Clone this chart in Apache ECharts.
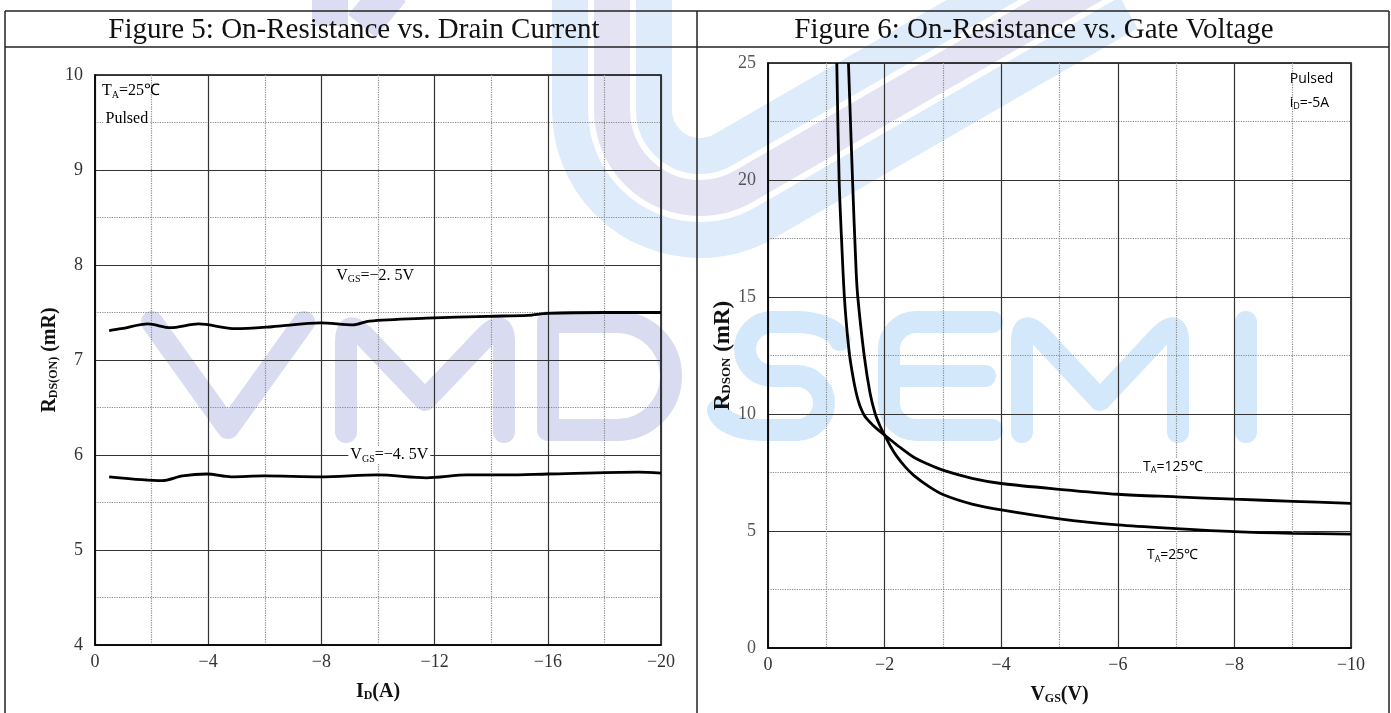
<!DOCTYPE html>
<html>
<head>
<meta charset="UTF-8">
<title>On-Resistance</title>
<script src="https://cdn.jsdelivr.net/npm/echarts@6/dist/echarts.min.js"></script>
<style>
  html, body { margin: 0; padding: 0; background: #fff; }
  #main { width: 1391px; height: 713px; }
</style>
</head>
<body>
<div id="main"></div>
<script>
// Figure 5 data: RDS(on) vs ID
const id25 = [-0.5, -0.93, -1.87, -2.66, -3.66, -4.96, -6.25, -7.97, -9.12, -9.7, -11.71, -13.87, -15.3, -16.0, -18.0, -20.0];
const rds25 = [7.31, 7.33, 7.38, 7.34, 7.38, 7.33, 7.35, 7.39, 7.37, 7.41, 7.44, 7.46, 7.47, 7.49, 7.50, 7.50];
const id45 = [-0.5, -1.65, -2.37, -3.09, -3.95, -4.81, -5.96, -7.97, -9.99, -11.71, -13.15, -14.58, -16.0, -19.2, -20.0];
const rds45 = [5.77, 5.74, 5.73, 5.78, 5.80, 5.77, 5.78, 5.77, 5.79, 5.76, 5.79, 5.79, 5.80, 5.82, 5.81];

// Figure 6 data: RDSON vs VGS
const vgs125 = [-1.18, -1.22, -1.27, -1.31, -1.35, -1.40, -1.45, -1.50, -1.55, -1.60, -1.65, -1.70, -1.80, -1.90, -2.00, -2.25, -2.50, -2.75, -3.00, -3.50, -4.00, -5.00, -6.00, -7.00, -8.00, -9.00, -10.00];
const r125 = [25, 20, 17, 15, 13.7, 12.5, 11.7, 11.05, 10.55, 10.2, 9.95, 9.78, 9.52, 9.3, 9.1, 8.6, 8.15, 7.85, 7.6, 7.25, 7.03, 6.78, 6.57, 6.46, 6.36, 6.27, 6.18];
const vgs25 = [-1.38, -1.45, -1.51, -1.54, -1.65, -1.75, -1.84, -1.92, -2.00, -2.10, -2.20, -2.35, -2.50, -2.75, -3.00, -3.50, -4.00, -5.00, -6.00, -7.00, -8.00, -9.00, -10.00];
const r25 = [25, 20, 16.2, 15, 12.5, 10.9, 10, 9.5, 9.1, 8.62, 8.22, 7.75, 7.38, 6.92, 6.56, 6.15, 5.9, 5.52, 5.26, 5.1, 4.97, 4.9, 4.87];

const titles = ['Figure 5: On-Resistance vs. Drain Current', 'Figure 6: On-Resistance vs. Gate Voltage'];

function zip(xs, ys) { return xs.map((x, i) => [x, ys[i]]); }
function negFmt(v) { return v === 0 ? '0' : '\u2212' + Math.abs(v); }

const serif = 'Liberation Serif';
const sans = 'Open Sans';

// watermark (logo) paths, drawn behind everything
const wmLav = ['M152,322 L228,428 L304,322',
  'M346,432 L346,342 Q346,318 364,336 L425,400 L486,336 Q504,318 504,342 L504,432',
  'M548,322 L548,430 L617,430 A54,54 0 0 0 617,322 Z'];
const wmBlue = ['M840,340 A45,22 0 0 0 795,322 L772,322 A27,27 0 0 0 772,376 L797,376 A27,27 0 0 1 797,430 L760,430 A45,22 0 0 1 718,410',
  'M992,322 L916,322 A27,27 0 0 0 889,349 L889,403 A27,27 0 0 0 916,430 L992,430 M889,376 L985,376',
  'M1022,432 L1022,342 Q1022,318 1040,336 L1100,400 L1160,336 Q1178,318 1178,342 L1178,432',
  'M1246,322 L1246,432'];
const bands = [];
[130, 88, 46].forEach((r, k) => {
  const cx = 700, cy = 110;
  const ex = cx + r * 0.5, ey = cy + r * 0.866;
  bands.push({ d: 'M' + (cx - r) + ',-20 L' + (cx - r) + ',' + cy + ' A' + r + ',' + r + ' 0 0 0 ' + ex + ',' + ey + ' L' + (ex + 420 * 0.866) + ',' + (ey - 420 * 0.5), c: k === 1 ? '#e3e3f4' : '#deebfa' });
});
bands.push({ d: 'M330,-10 L330,26', c: '#dcdcf2' });
bands.push({ d: 'M362,26 L392,-10', c: '#dcdcf2' });

const chart = echarts.init(document.getElementById('main'));

function axisX(grid, min, interval) {
  return {
    type: 'value', gridIndex: grid, min: min, max: 0, inverse: true, interval: interval,
    axisLine: { lineStyle: { color: '#000', width: 1.5 } },
    axisTick: { show: false },
    axisLabel: { fontFamily: serif, fontSize: 18, color: '#333', margin: 8, formatter: negFmt },
    splitLine: { lineStyle: { color: '#333', width: 1.2 } },
    minorTick: { show: false, splitNumber: 2 },
    minorSplitLine: { show: true, lineStyle: { color: '#8a8a8a', type: 'dotted', width: 1.2 } }
  };
}
function axisY(grid, min, max, interval, col) {
  return {
    type: 'value', gridIndex: grid, min: min, max: max, interval: interval,
    axisLine: { lineStyle: { color: '#000', width: 1.5 } },
    axisTick: { show: false },
    axisLabel: { fontFamily: serif, fontSize: 18, color: col, margin: 12 },
    splitLine: { lineStyle: { color: '#333', width: 1.2 } },
    minorTick: { show: false, splitNumber: 2 },
    minorSplitLine: { show: true, lineStyle: { color: '#8a8a8a', type: 'dotted', width: 1.2 } }
  };
}

function nameRich(big, small) {
  return {
    b: { fontFamily: serif, fontWeight: 'bold', fontSize: big, color: '#111' },
    s: { fontFamily: serif, fontWeight: 'bold', fontSize: small, color: '#111', padding: [9, 0, 0, 0] }
  };
}

const xA = [axisX(0, -20, 4), axisX(1, -10, 2)];
xA[0].name = '{b|I}{s|D}{b|(A)}';
xA[1].name = '{b|V}{s|GS}{b|(V)}';
xA.forEach(a => { a.nameLocation = 'middle'; a.nameGap = 36; a.nameTextStyle = { rich: nameRich(20, 12) }; });
const yA = [axisY(0, 4, 10, 1, '#333'), axisY(1, 0, 25, 5, '#555')];
yA[0].name = '{b|R}{s|DS(ON)}{b| (mR)}';
yA[1].name = '{b|R}{s|DSON}{b| (mR)}';
yA[0].nameGap = 35; yA[1].nameGap = 27;
yA[0].nameLocation = 'middle'; yA[0].nameTextStyle = { rich: nameRich(20, 12) };
yA[1].nameLocation = 'middle'; yA[1].nameTextStyle = { rich: nameRich(23, 13) };

const lineStyle = { color: '#000', width: 2.8 };

chart.setOption({
  animation: false,
  backgroundColor: '#fff',
  grid: [
    { left: 95, top: 75, width: 566, height: 570, show: true, borderColor: '#000', borderWidth: 1.5 },
    { left: 768, top: 63, width: 583, height: 585, show: true, borderColor: '#000', borderWidth: 1.5 }
  ],
  xAxis: xA,
  yAxis: yA,
  series: [
    {
      type: 'custom', coordinateSystem: 'none', silent: true, z: -1, data: [[0]],
      renderItem: function () {
        const kids = [];
        bands.forEach(b => kids.push({ type: 'path', shape: { pathData: b.d }, style: { fill: 'none', stroke: b.c, lineWidth: 36, lineCap: 'butt' } }));
        wmLav.forEach(d => kids.push({ type: 'path', shape: { pathData: d }, style: { fill: 'none', stroke: '#d9dbf1', lineWidth: 22, lineCap: 'round', lineJoin: 'round' } }));
        wmBlue.forEach(d => kids.push({ type: 'path', shape: { pathData: d }, style: { fill: 'none', stroke: '#d4e8fb', lineWidth: 22, lineCap: 'round', lineJoin: 'round' } }));
        return { type: 'group', children: kids };
      }
    },
    { type: 'line', xAxisIndex: 0, yAxisIndex: 0, data: zip(id25, rds25), showSymbol: false, smooth: 0.3, lineStyle: lineStyle },
    { type: 'line', xAxisIndex: 0, yAxisIndex: 0, data: zip(id45, rds45), showSymbol: false, smooth: 0.3, lineStyle: lineStyle },
    { type: 'line', xAxisIndex: 1, yAxisIndex: 1, data: zip(vgs125, r125), showSymbol: false, smooth: 0.3, lineStyle: lineStyle },
    { type: 'line', xAxisIndex: 1, yAxisIndex: 1, data: zip(vgs25, r25), showSymbol: false, smooth: 0.3, lineStyle: lineStyle }
  ]
});

// annotations placed in data coordinates
const serifRich = {
  n: { fontFamily: serif, fontSize: 16, color: '#333' },
  s: { fontFamily: serif, fontSize: 10, color: '#333', padding: [8, 0, 0, 0] }
};
const sansRich = {
  n: { fontFamily: sans, fontSize: 14, color: '#222' },
  s: { fontFamily: sans, fontSize: 9, color: '#222', padding: [8, 0, 0, 0] }
};
const notes = [
  { g: 0, at: [-0.25, 9.83], t: '{n|T}{s|A}{n|=25\u2103}', r: serifRich, a: 'left' },
  { g: 0, at: [-0.3, 9.54], t: '{n|Pulsed}', r: serifRich, a: 'left', bg: true },
  { g: 0, at: [-9.9, 7.89], t: '{n|V}{s|GS}{n|=\u22122. 5V}', r: serifRich, a: 'center' },
  { g: 0, at: [-10.4, 6.0], t: '{n|V}{s|GS}{n|=\u22124. 5V}', r: serifRich, a: 'center', bg: true },
  { g: 1, at: [-8.95, 24.3], t: '{n|Pulsed}', r: sansRich, a: 'left' },
  { g: 1, at: [-8.95, 23.3], t: '{n|i}{s|D}{n|=-5A}', r: sansRich, a: 'left' },
  { g: 1, at: [-6.4, 7.75], t: '{n|T}{s|A}{n|=125\u2103}', r: sansRich, a: 'left', bg: true },
  { g: 1, at: [-6.5, 3.97], t: '{n|T}{s|A}{n|=25\u2103}', r: sansRich, a: 'left' }
];

const gfx = [];
notes.forEach(n => {
  const p = chart.convertToPixel({ gridIndex: n.g }, n.at);
  gfx.push({
    type: 'text', x: p[0], y: p[1], z: 100,
    style: { text: n.t, rich: n.r, align: n.a, verticalAlign: 'middle', backgroundColor: n.bg ? '#fff' : 'transparent', padding: n.bg ? [0, 2] : 0 }
  });
});

// table frame and titles
const ln = { stroke: '#222', lineWidth: 1.5 };
gfx.push({ type: 'line', shape: { x1: 5, y1: 11, x2: 1389, y2: 11 }, style: ln, z: 50 });
gfx.push({ type: 'line', shape: { x1: 5, y1: 47, x2: 1389, y2: 47 }, style: ln, z: 50 });
[5, 697, 1389].forEach(x => gfx.push({ type: 'line', shape: { x1: x, y1: 11, x2: x, y2: 713 }, style: ln, z: 50 }));
gfx.push({ type: 'text', x: 354, y: 30, z: 50, style: { text: titles[0], font: '29px "Liberation Serif"', fill: '#111', align: 'center', verticalAlign: 'middle' } });
gfx.push({ type: 'text', x: 1034, y: 30, z: 50, style: { text: titles[1], font: '29px "Liberation Serif"', fill: '#111', align: 'center', verticalAlign: 'middle' } });

chart.setOption({ graphic: gfx });
</script>
</body>
</html>
